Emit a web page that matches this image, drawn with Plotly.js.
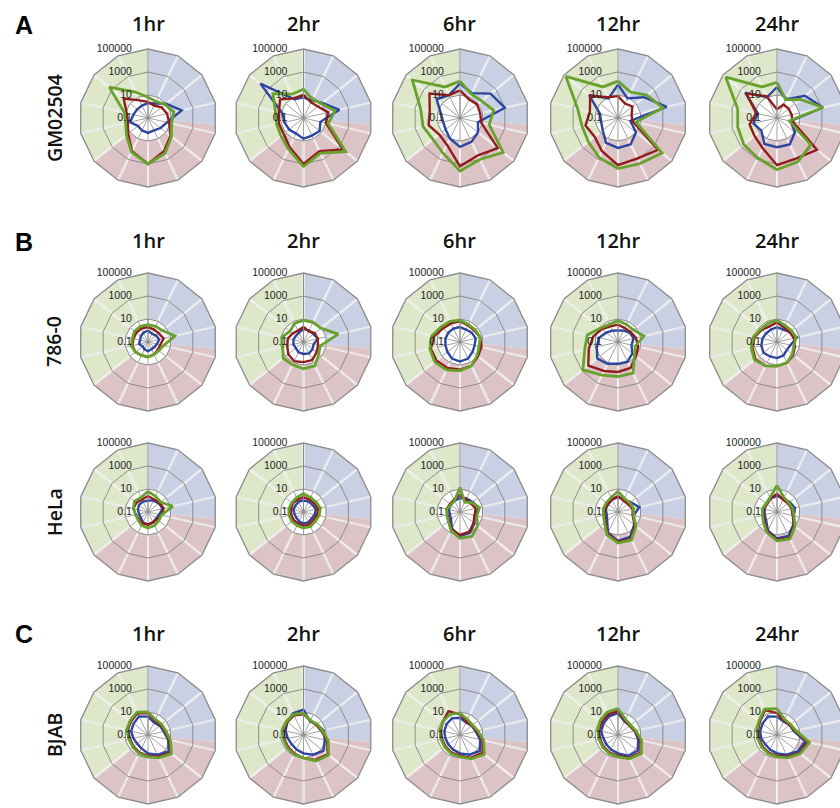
<!DOCTYPE html>
<html><head><meta charset="utf-8">
<script src="https://cdn.plot.ly/plotly-3.0.1.min.js"></script>
<style>html,body{margin:0;padding:0;overflow:hidden;background:#fff}#chart{width:860px;height:808px}</style>
</head><body><div id="chart"></div>
<script>
// ---------------- data ----------------
const categories = ['P1','P2','P3','P4','P5','P6','P7','P8','P9','P10','P11','P12','P13','P14'];
const timepoints = ['1hr','2hr','6hr','12hr','24hr'];
const cellLines = ['GM02504','786-0','HeLa','BJAB'];
const radialTickVals = [0.1, 10, 1000, 100000];
const radialTickText = ['0.1', '10', '1000', '100000'];

const gm_1hr_blue  = [2, 2.5, 10, 100, 5, 2.5, 1.6, 2, 1.6, 1.3, 4, 2, 1.6, 1.6];
const gm_1hr_red   = [2.5, 1.6, 3.2, 5, 7.9, 32, 160, 1000, 160, 16, 6.3, 7.9, 50, 5];
const gm_1hr_green = [6.3, 4, 7.9, 20, 12.6, 40, 250, 1000, 200, 25, 10, 12.6, 2000, 32];
const gm_2hr_blue  = [6.3, 5, 12.6, 160, 3.2, 6.3, 5, 6.3, 3.2, 4, 5, 7.9, 6300, 6.3];
const gm_2hr_red   = [10, 3.2, 4, 16, 10, 2500, 160, 1000, 63, 16, 16, 16, 40, 7.9];
const gm_2hr_green = [32, 6.3, 10, 63, 16, 5000, 250, 1600, 100, 32, 25, 32, 250, 20];
const gm_6hr_blue  = [100, 25, 250, 1000, 4, 10, 20, 32, 10, 4, 3.2, 5, 40, 16];
const gm_6hr_red   = [25, 6.3, 7.9, 6.3, 7.9, 1600, 400, 1600, 40, 20, 63, 50, 250, 16];
const gm_6hr_green = [160, 20, 25, 100, 40, 6300, 1000, 4000, 250, 100, 200, 320, 20000, 100];
const gm_12hr_blue  = [79, 7.9, 79, 2200, 1.26, 10, 35, 40, 25, 5, 3.2, 4, 160, 7.9];
const gm_12hr_red   = [7.9, 2.5, 4, 1.6, 2, 2800, 790, 1260, 160, 40, 79, 32, 126, 10];
const gm_12hr_green = [160, 32, 160, 1000, 4, 7900, 2500, 2500, 630, 200, 160, 400, 63000, 100];
const gm_24hr_blue  = [50, 6.3, 126, 1260, 1.6, 10, 35, 35, 32, 5.6, 12.6, 5, 350, 10];
const gm_24hr_red   = [0.56, 2, 2, 2, 2.5, 2800, 790, 1260, 79, 32, 28, 7.1, 250, 12.6];
const gm_24hr_green = [126, 5.6, 40, 1260, 1.26, 560, 1600, 3200, 710, 500, 320, 320, 50000, 100];

const rcc_1hr_blue  = [1, 0.63, 0.79, 1, 0.63, 0.5, 0.5, 0.63, 0.5, 0.4, 0.63, 0.5, 0.63, 0.79];
const rcc_1hr_red   = [2, 1.6, 1.6, 2.5, 1.26, 1.26, 1.6, 2, 2, 2.5, 2.5, 2, 2, 2];
const rcc_1hr_green = [3.2, 3.2, 4, 25, 2.5, 1.6, 1.6, 2, 2, 2.5, 3.2, 2.5, 3.2, 3.2];
const rcc_2hr_blue  = [1.4, 1.26, 1.26, 2, 0.79, 1, 1.26, 1.1, 1, 0.71, 0.79, 0.79, 0.71, 0.79];
const rcc_2hr_red   = [2, 1.1, 1.8, 1.8, 2, 2.8, 5.6, 5.6, 7.1, 5, 2.8, 2.5, 1.6, 1.26];
const rcc_2hr_green = [7.6, 7.9, 8.5, 126, 3.2, 5, 20, 21, 16, 18, 7.1, 8.5, 3.2, 6.3];
const rcc_6hr_blue  = [2, 1.6, 2, 2.5, 2, 2.5, 4, 5, 4, 2.5, 2, 2, 2, 2];
const rcc_6hr_red   = [6.3, 4, 4, 6.3, 7.9, 10, 20, 25, 32, 40, 40, 20, 7.9, 6.3];
const rcc_6hr_green = [7.9, 5, 5, 6.3, 5, 7.9, 20, 32, 50, 63, 50, 32, 12.6, 10];
const rcc_12hr_blue  = [1, 1.26, 2, 2.5, 1.6, 4, 7.9, 7.9, 12.6, 20, 7.9, 5, 2, 1.26];
const rcc_12hr_red   = [3.2, 2.2, 2.5, 4, 6.3, 10, 32, 40, 63, 200, 40, 16, 6.3, 3.2];
const rcc_12hr_green = [7.2, 5, 5, 20, 3.5, 6.8, 100, 100, 160, 790, 93, 55, 8.9, 5];
const rcc_24hr_blue  = [2, 1.6, 2.5, 6.3, 1.6, 1.26, 2, 2.5, 2.5, 3.2, 2.5, 2, 1.6, 1.6];
const rcc_24hr_red   = [5, 2.5, 2.5, 3.2, 4, 6.3, 10, 12.6, 20, 25, 16, 10, 5, 3.2];
const rcc_24hr_green = [7.9, 4, 4, 5, 3.2, 5, 10, 12.6, 20, 32, 20, 12.6, 6.3, 6.3];

const hela_1hr_blue  = [1, 1.26, 1.6, 2, 1, 0.79, 1, 1.26, 1, 0.63, 0.63, 0.79, 1, 1];
const hela_1hr_red   = [2.5, 1.6, 2, 2.5, 1.6, 1, 1, 1.26, 1.26, 1, 1.26, 2, 2, 1.6];
const hela_1hr_green = [6.3, 3.2, 2.5, 16, 1.6, 1.6, 2, 2.5, 2, 1.26, 1.26, 2, 3.2, 2.5];
const hela_2hr_blue  = [1, 1, 1, 1.26, 1, 0.79, 1, 1, 0.79, 0.63, 0.63, 0.79, 0.79, 1];
const hela_2hr_red   = [2, 1.6, 1.6, 2, 1.6, 1.26, 1.6, 1.6, 1.26, 1.26, 1.26, 1.26, 1.6, 1.6];
const hela_2hr_green = [4, 2.5, 2.5, 3.2, 2.5, 2, 2.5, 2.5, 2, 2, 2, 2, 2, 2.5];
const hela_6hr_blue  = [1.6, 2, 2.5, 5, 2, 4, 10, 12.6, 4, 1, 0.79, 1, 1, 1.26];
const hela_6hr_red   = [3.2, 1.6, 1.6, 2.5, 2, 3.2, 7.9, 10, 5, 1.6, 1.26, 1.6, 1.26, 1.6];
const hela_6hr_green = [14, 0.9, 2, 5.5, 3.2, 8.9, 23, 19.5, 6.3, 2, 1.5, 1.5, 1, 1.26];
const hela_12hr_blue  = [2, 1.6, 2.5, 7.9, 2.5, 6.3, 25, 32, 10, 1.6, 1, 1.26, 1.26, 1.6];
const hela_12hr_red   = [2.5, 1.26, 1.26, 2, 2, 7.9, 40, 40, 12.6, 2.5, 1.6, 1.6, 1.26, 1.6];
const hela_12hr_green = [6.3, 2, 2, 2.5, 2.5, 10, 50, 50, 16, 3.2, 2, 2, 2, 2.5];
const hela_24hr_blue  = [2.5, 2, 2.5, 4, 3.2, 6.3, 20, 20, 6.3, 1.6, 1.26, 1.26, 1.6, 2];
const hela_24hr_red   = [4, 1.6, 1.6, 2, 2.5, 7.9, 32, 25, 7.9, 2.5, 1.6, 1.6, 1.26, 2];
const hela_24hr_green = [20, 2.5, 2, 2.5, 3.2, 10, 40, 32, 10, 3.2, 2, 2, 1.6, 2.5];

const bjab_1hr_blue  = [4, 1.6, 2, 2.5, 6.3, 20, 7.9, 4, 2, 1.6, 2, 3.2, 4, 6.3];
const bjab_1hr_red   = [7.9, 2.5, 2.5, 3.2, 7.9, 32, 12.6, 6.3, 5, 4, 4, 6.3, 7.9, 12.6];
const bjab_1hr_green = [10, 3.2, 3.2, 4, 10, 40, 16, 7.9, 6.3, 5, 5, 7.9, 10, 16];
const bjab_2hr_blue  = [16, 2, 3.2, 6.3, 7.9, 16, 7.9, 4, 2.5, 2, 2.5, 4, 6.3, 12.6];
const bjab_2hr_red   = [6.3, 2.5, 2.5, 4, 12.6, 50, 25, 10, 6.3, 5, 5, 6.3, 6.3, 7.9];
const bjab_2hr_green = [7.9, 2.5, 3.2, 5, 16, 63, 32, 10, 7.9, 6.3, 6.3, 7.9, 7.9, 10];
const bjab_6hr_blue  = [3.2, 1.6, 2, 2.5, 6.3, 16, 7.9, 4, 2.5, 2, 2, 2.5, 3.2, 4];
const bjab_6hr_red   = [6.3, 2, 2, 3.2, 10, 32, 16, 6.3, 5, 4, 4, 5, 7.9, 20];
const bjab_6hr_green = [7.9, 3.2, 2.5, 4, 12.6, 50, 20, 7.9, 6.3, 5, 5, 6.3, 7.9, 10];
const bjab_12hr_blue  = [7.9, 2, 2, 3.2, 6.3, 16, 10, 4, 2.5, 2, 2, 3.2, 4, 6.3];
const bjab_12hr_red   = [12.6, 2.5, 2, 3.2, 10, 32, 16, 6.3, 5, 4, 4, 5, 6.3, 10];
const bjab_12hr_green = [20, 3.2, 2.5, 4, 12.6, 40, 20, 7.9, 6.3, 5, 5, 6.3, 10, 16];
const bjab_24hr_blue  = [4, 2, 2.5, 3.2, 32, 20, 7.9, 4, 2.5, 2, 2.5, 3.2, 4, 6.3];
const bjab_24hr_red   = [7.9, 2.5, 2.5, 4, 50, 32, 12.6, 6.3, 5, 4, 4, 5, 7.9, 25];
const bjab_24hr_green = [20, 3.2, 3.2, 5, 79, 40, 16, 7.9, 6.3, 5, 5, 6.3, 10, 32];

const panels = [
  [[gm_1hr_blue, gm_1hr_red, gm_1hr_green], [gm_2hr_blue, gm_2hr_red, gm_2hr_green], [gm_6hr_blue, gm_6hr_red, gm_6hr_green], [gm_12hr_blue, gm_12hr_red, gm_12hr_green], [gm_24hr_blue, gm_24hr_red, gm_24hr_green]],
  [[rcc_1hr_blue, rcc_1hr_red, rcc_1hr_green], [rcc_2hr_blue, rcc_2hr_red, rcc_2hr_green], [rcc_6hr_blue, rcc_6hr_red, rcc_6hr_green], [rcc_12hr_blue, rcc_12hr_red, rcc_12hr_green], [rcc_24hr_blue, rcc_24hr_red, rcc_24hr_green]],
  [[hela_1hr_blue, hela_1hr_red, hela_1hr_green], [hela_2hr_blue, hela_2hr_red, hela_2hr_green], [hela_6hr_blue, hela_6hr_red, hela_6hr_green], [hela_12hr_blue, hela_12hr_red, hela_12hr_green], [hela_24hr_blue, hela_24hr_red, hela_24hr_green]],
  [[bjab_1hr_blue, bjab_1hr_red, bjab_1hr_green], [bjab_2hr_blue, bjab_2hr_red, bjab_2hr_green], [bjab_6hr_blue, bjab_6hr_red, bjab_6hr_green], [bjab_12hr_blue, bjab_12hr_red, bjab_12hr_green], [bjab_24hr_blue, bjab_24hr_red, bjab_24hr_green]]
];

// ---------------- layout / style ----------------
const W = 860, H = 808, R = 69;
const colX = [148, 303.5, 460, 618, 777];
const rowY = [118, 342, 512, 735];
const titleY = [23, 241, null, 633];
const letterY = [25, 242, null, 634];
const letters = ['A', 'B', null, 'C'];
const seriesColors = ['#2c45a0', '#921c1c', '#68a22c'];
const seriesWidths = [2.4, 2.4, 2.8];
const GRID = '#8c8c8c';
const NSP = 14, STEP = 360 / NSP;
const R_IN = 1 / 3;  // position of the "10" ring on the 0.1..100000 log scale
const SECTORS = [
  {color: '#c9d0e4', from: 0, to: 96},
  {color: '#dcc3c6', from: 96, to: 231.43},
  {color: '#dfe7cb', from: 231.43, to: 360}
];

function polyR(theta) {
  const half = STEP / 2;
  const local = ((theta % STEP) + STEP) % STEP - half;
  return Math.cos(half * Math.PI / 180) / Math.cos(local * Math.PI / 180);
}
function sectorPath(from, to) {
  const angs = [from];
  for (let k = 0; k <= NSP; k++) { const a = k * STEP; if (a > from + 1e-6 && a < to - 1e-6) angs.push(a); }
  angs.push(to);
  const th = [], r = [];
  angs.forEach(a => { th.push(a); r.push(polyR(a)); });
  angs.slice().reverse().forEach(a => { th.push(a); r.push(polyR(a) * R_IN); });
  th.push(angs[0]); r.push(polyR(angs[0]));
  return {th, r};
}

const traces = [];
const layout = {
  width: W, height: H, margin: {l: 0, r: 0, t: 0, b: 0},
  paper_bgcolor: '#fff', showlegend: false, annotations: []
};

let idx = 0;
for (let row = 0; row < 4; row++) {
  for (let col = 0; col < 5; col++) {
    const cx = colX[col], cy = rowY[row];
    const dom = {x: [(cx - R) / W, (cx + R) / W], y: [(H - cy - R) / H, (H - cy + R) / H]};
    const bgId = 'polar' + (2 * idx + 1 === 1 ? '' : (2 * idx + 1));
    const rdId = 'polar' + (2 * idx + 2);
    layout[bgId] = {
      domain: dom, bgcolor: 'rgba(0,0,0,0)',
      angularaxis: {type: 'linear', rotation: 90, direction: 'clockwise', visible: false},
      radialaxis: {range: [0, 1], visible: false}
    };
    SECTORS.forEach(s => {
      const p = sectorPath(s.from, s.to);
      traces.push({type: 'scatterpolar', subplot: bgId, r: p.r, theta: p.th, mode: 'lines',
        fill: 'toself', fillcolor: s.color, line: {width: 0, color: s.color}, hoverinfo: 'skip'});
    });
    const wr = [], wt = [], gr = [], gt = [];
    for (let k = 0; k < NSP; k++) {
      wr.push(R_IN, 1, null); wt.push(k * STEP, k * STEP, null);
      gr.push(0, R_IN, null); gt.push(k * STEP, k * STEP, null);
    }
    traces.push({type: 'scatterpolar', subplot: bgId, r: wr, theta: wt, mode: 'lines',
      line: {color: '#ffffff', width: 2}, hoverinfo: 'skip'});
    traces.push({type: 'scatterpolar', subplot: bgId, r: wr, theta: wt, mode: 'lines',
      line: {color: 'rgba(140,140,140,0.45)', width: 0.6}, hoverinfo: 'skip'});
    traces.push({type: 'scatterpolar', subplot: bgId, r: gr, theta: gt, mode: 'lines',
      line: {color: GRID, width: 0.8}, hoverinfo: 'skip'});

    layout[rdId] = {
      domain: dom, gridshape: 'linear', bgcolor: 'rgba(0,0,0,0)',
      angularaxis: {type: 'category', categoryarray: categories, rotation: 90, direction: 'clockwise',
        showticklabels: false, ticks: '', showgrid: false, showline: true, linecolor: GRID, linewidth: 1.3},
      radialaxis: {type: 'log', range: [-1, 5], tickvals: radialTickVals, ticktext: radialTickText,
        angle: 90, tickangle: 90, side: 'counterclockwise', ticks: 'outside', ticklen: 12,
        tickcolor: 'rgba(0,0,0,0)', showline: true, linecolor: GRID,
        linewidth: 1, gridcolor: GRID, gridwidth: 1,
        tickfont: {family: 'Liberation Sans, Arial, sans-serif', size: 10.5, color: '#222'}}
    };
    panels[row][col].forEach((vals, s) => {
      traces.push({type: 'scatterpolar', subplot: rdId,
        r: vals.concat([vals[0]]), theta: categories.concat([categories[0]]),
        mode: 'lines', line: {color: seriesColors[s], width: seriesWidths[s]}, hoverinfo: 'skip'});
    });

    if (titleY[row] !== null) {
      layout.annotations.push({text: timepoints[col], xref: 'paper', yref: 'paper', x: cx / W, y: 1 - titleY[row] / H,
        xanchor: 'center', yanchor: 'middle', showarrow: false,
        font: {family: 'Open Sans, sans-serif', size: 20, weight: 600, color: '#111'}});
    }
    idx++;
  }
  layout.annotations.push({text: cellLines[row], xref: 'paper', yref: 'paper', x: 54 / W, y: 1 - rowY[row] / H,
    xanchor: 'center', yanchor: 'middle', textangle: -90, showarrow: false,
    font: {family: 'Open Sans, sans-serif', size: 19.5, weight: 600, color: '#111'}});
  if (letters[row]) {
    layout.annotations.push({text: '<b>' + letters[row] + '</b>', xref: 'paper', yref: 'paper', x: 24 / W, y: 1 - letterY[row] / H,
      xanchor: 'center', yanchor: 'middle', showarrow: false,
      font: {family: 'Liberation Sans, Arial, sans-serif', size: 25, color: '#000'}});
  }
}

Plotly.newPlot('chart', traces, layout, {staticPlot: true, displayModeBar: false});
</script>
</body></html>
